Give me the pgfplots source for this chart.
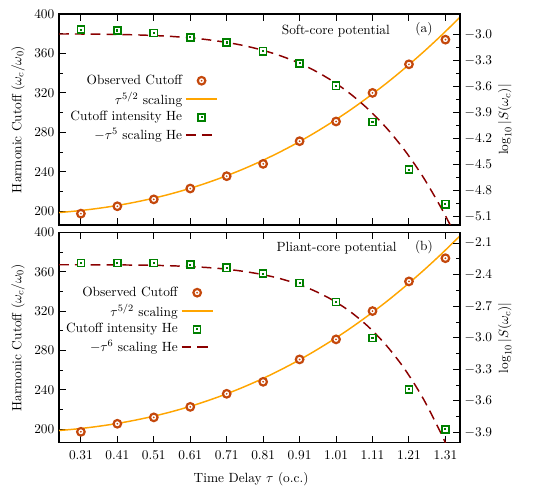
\documentclass[border=0pt,11pt]{standalone}
\usepackage{pgfplots}
\pgfplotsset{compat=1.18}

\definecolor{cutcol}{RGB}{196,72,12}
\definecolor{fitcol}{RGB}{255,165,0}
\definecolor{intcol}{RGB}{0,128,0}
\definecolor{hecol}{RGB}{139,0,0}

% ring with a dot in the middle
\pgfdeclareplotmark{ringdot}{%
  \pgfpathcircle{\pgfpointorigin}{\pgfplotmarksize}%
  \pgfusepathqfillstroke
  \begin{pgfscope}
  \pgfpathcircle{\pgfpointorigin}{0.26\pgfplotmarksize}%
  \pgfsetfillcolor{cutcol}\pgfusepathqfill
  \end{pgfscope}}
% square with a small square in the middle
\pgfdeclareplotmark{boxdot}{%
  \pgfpathrectangle{\pgfpoint{-\pgfplotmarksize}{-\pgfplotmarksize}}{\pgfpoint{2\pgfplotmarksize}{2\pgfplotmarksize}}%
  \pgfusepathqfillstroke
  \begin{pgfscope}
  \pgfpathrectangle{\pgfpoint{-0.3\pgfplotmarksize}{-0.3\pgfplotmarksize}}{\pgfpoint{0.6\pgfplotmarksize}{0.6\pgfplotmarksize}}%
  \pgfsetfillcolor{intcol}\pgfusepathqfill
  \end{pgfscope}}

\pgfplotsset{
  base/.style={
    scale only axis, width=328.8pt, anchor=south west,
    xmin=0.25, xmax=1.35,
    xtick={0.31,0.41,0.51,0.61,0.71,0.81,0.91,1.01,1.11,1.21,1.31},
    axis line style={line width=0.9pt},
    tick style={black, line width=0.8pt},
    major tick length=5.5pt, minor tick length=3pt,
  },
  lefty/.style={ymin=186, ymax=400, ytick={200,240,...,400}, minor y tick num=1,
    ytick pos=left, xtick pos=both,
    ylabel={Harmonic Cutoff ($\omega_c/\omega_0$)},
    ylabel style={at={(axis description cs:-0.102,0.5)}, anchor=center}},
  righty/.style={axis y line*=right, axis x line=none, minor y tick num=1,
    y tick label style={/pgf/number format/.cd, fixed, fixed zerofill, precision=1},
    ylabel={$\log_{10}|S(\omega_c)|$},
    ylabel style={at={(axis description cs:1.112,0.5)}, anchor=center}},
  cutoff/.style={only marks, mark=ringdot, mark size=3.1pt,
    mark options={draw=cutcol, fill=white, line width=1.8pt}},
  intens/.style={only marks, mark=boxdot, mark size=2.9pt,
    mark options={draw=intcol, fill=white, line width=1.3pt}},
  fit/.style={fitcol, line width=1.2pt, smooth},
  hefit/.style={hecol, line width=1.2pt, dash pattern=on 8pt off 5pt, smooth},
  leg/.style={legend style={draw=none, fill=none, anchor=north east, row sep=-0.5pt,
      nodes={inner sep=2.5pt}},
    legend plot pos=right, legend cell align=right,
    legend image code/.code={\draw[mark repeat=2,mark phase=2,##1] plot coordinates {(0cm,0cm) (0.45cm,0cm) (0.9cm,0cm)};}},
}

\begin{document}
\begin{tikzpicture}
\useasboundingbox (0,0) rectangle (442.8pt,398.5pt);

% ---------- panel (a) ----------
\begin{axis}[base, lefty, at={(48.4pt,214.0pt)}, height=173pt, xticklabels={}]
\addplot[fit] coordinates {
  (0.25,198.6) (0.30,200.3) (0.35,202.5) (0.40,205.2) (0.45,208.5) (0.50,212.4)
  (0.55,216.9) (0.60,222.1) (0.65,228.0) (0.70,234.6) (0.75,241.9) (0.80,250.0)
  (0.85,258.9) (0.90,268.6) (0.95,279.2) (1.00,290.6) (1.05,302.9) (1.10,316.2)
  (1.15,330.3) (1.20,345.5) (1.25,361.6) (1.30,378.7) (1.35,396.8)};
\addplot[cutoff] coordinates {
  (0.31,197.5) (0.41,205) (0.51,212) (0.61,223) (0.71,235.5) (0.81,248)
  (0.91,271) (1.01,291) (1.11,320) (1.21,349) (1.31,374)};
\end{axis}

\begin{axis}[base, righty, leg, at={(48.4pt,214.0pt)}, height=173pt,
  ymin=-5.2, ymax=-2.76,
  ytick={-5.1,-4.8,-4.5,-4.2,-3.9,-3.6,-3.3,-3.0},
  legend style={at={(0.406,0.738)}}]
\addlegendimage{cutoff}
\addlegendentry{Observed Cutoff}
\addlegendimage{fitcol, line width=1.2pt}
\addlegendentry{$\tau^{5/2}$ scaling}
\addplot[intens] coordinates {
  (0.31,-2.94) (0.41,-2.95) (0.51,-2.98) (0.61,-3.03) (0.71,-3.09) (0.81,-3.19)
  (0.91,-3.33) (1.01,-3.59) (1.11,-4.01) (1.21,-4.56) (1.31,-4.96)};
\addlegendentry{Cutoff intensity He}
\addplot[hefit] coordinates {
  (0.25,-2.991) (0.30,-2.991) (0.35,-2.993) (0.40,-2.996) (0.45,-3.000) (0.50,-3.007)
  (0.55,-3.017) (0.60,-3.032) (0.65,-3.053) (0.70,-3.082) (0.75,-3.119) (0.80,-3.169)
  (0.85,-3.232) (0.90,-3.312) (0.95,-3.412) (1.00,-3.535) (1.05,-3.686) (1.10,-3.868)
  (1.15,-4.086) (1.20,-4.346) (1.25,-4.653) (1.30,-5.014) (1.325,-5.216)};
\addlegendentry{$-\tau^5$ scaling He}
\node[anchor=west] at (rel axis cs:0.544,0.92) {Soft-core potential};
\node at (rel axis cs:0.91,0.927) {(a)};
\end{axis}

% ---------- panel (b) ----------
\begin{axis}[base, lefty, at={(48.4pt,35.3pt)}, height=172.4pt,
  xticklabel shift=3pt,
  xlabel={Time Delay $\tau$ (o.c.)},
  xlabel style={at={(axis description cs:0.479,-0.17)}, anchor=center}]
\addplot[fit] coordinates {
  (0.25,198.6) (0.30,200.3) (0.35,202.5) (0.40,205.2) (0.45,208.5) (0.50,212.4)
  (0.55,216.9) (0.60,222.1) (0.65,228.0) (0.70,234.6) (0.75,241.9) (0.80,250.0)
  (0.85,258.9) (0.90,268.6) (0.95,279.2) (1.00,290.6) (1.05,302.9) (1.10,316.2)
  (1.15,330.3) (1.20,345.5) (1.25,361.6) (1.30,378.7) (1.35,396.8)};
\addplot[cutoff] coordinates {
  (0.31,197.3) (0.41,205.5) (0.51,212) (0.61,222.7) (0.71,236) (0.81,248.2)
  (0.91,271) (1.01,291.4) (1.11,320.2) (1.21,350.4) (1.31,374)};
\end{axis}

\begin{axis}[base, righty, leg, at={(48.4pt,35.3pt)}, height=172.4pt,
  ymin=-4.0, ymax=-2.0,
  ytick={-3.9,-3.6,-3.3,-3.0,-2.7,-2.4,-2.1},
  legend style={at={(0.395,0.769)}}]
\addlegendimage{cutoff}
\addlegendentry{Observed Cutoff}
\addlegendimage{fitcol, line width=1.2pt}
\addlegendentry{$\tau^{5/2}$ scaling}
\addplot[intens] coordinates {
  (0.31,-2.287) (0.41,-2.287) (0.51,-2.29) (0.61,-2.305) (0.71,-2.334) (0.81,-2.39)
  (0.91,-2.479) (1.01,-2.659) (1.11,-3.003) (1.21,-3.49) (1.31,-3.87)};
\addlegendentry{Cutoff intensity He}
\addplot[hefit] coordinates {
  (0.25,-2.305) (0.30,-2.305) (0.35,-2.306) (0.40,-2.306) (0.45,-2.308) (0.50,-2.310)
  (0.55,-2.314) (0.60,-2.321) (0.65,-2.330) (0.70,-2.344) (0.75,-2.365) (0.80,-2.393)
  (0.85,-2.431) (0.90,-2.483) (0.95,-2.552) (1.00,-2.640) (1.05,-2.754) (1.10,-2.899)
  (1.15,-3.081) (1.20,-3.306) (1.25,-3.584) (1.30,-3.924) (1.32,-4.079)};
\addlegendentry{$-\tau^6$ scaling He}
\node[anchor=west] at (rel axis cs:0.531,0.925) {Pliant-core potential};
\node at (rel axis cs:0.91,0.93) {(b)};
\end{axis}
\end{tikzpicture}
\end{document}
